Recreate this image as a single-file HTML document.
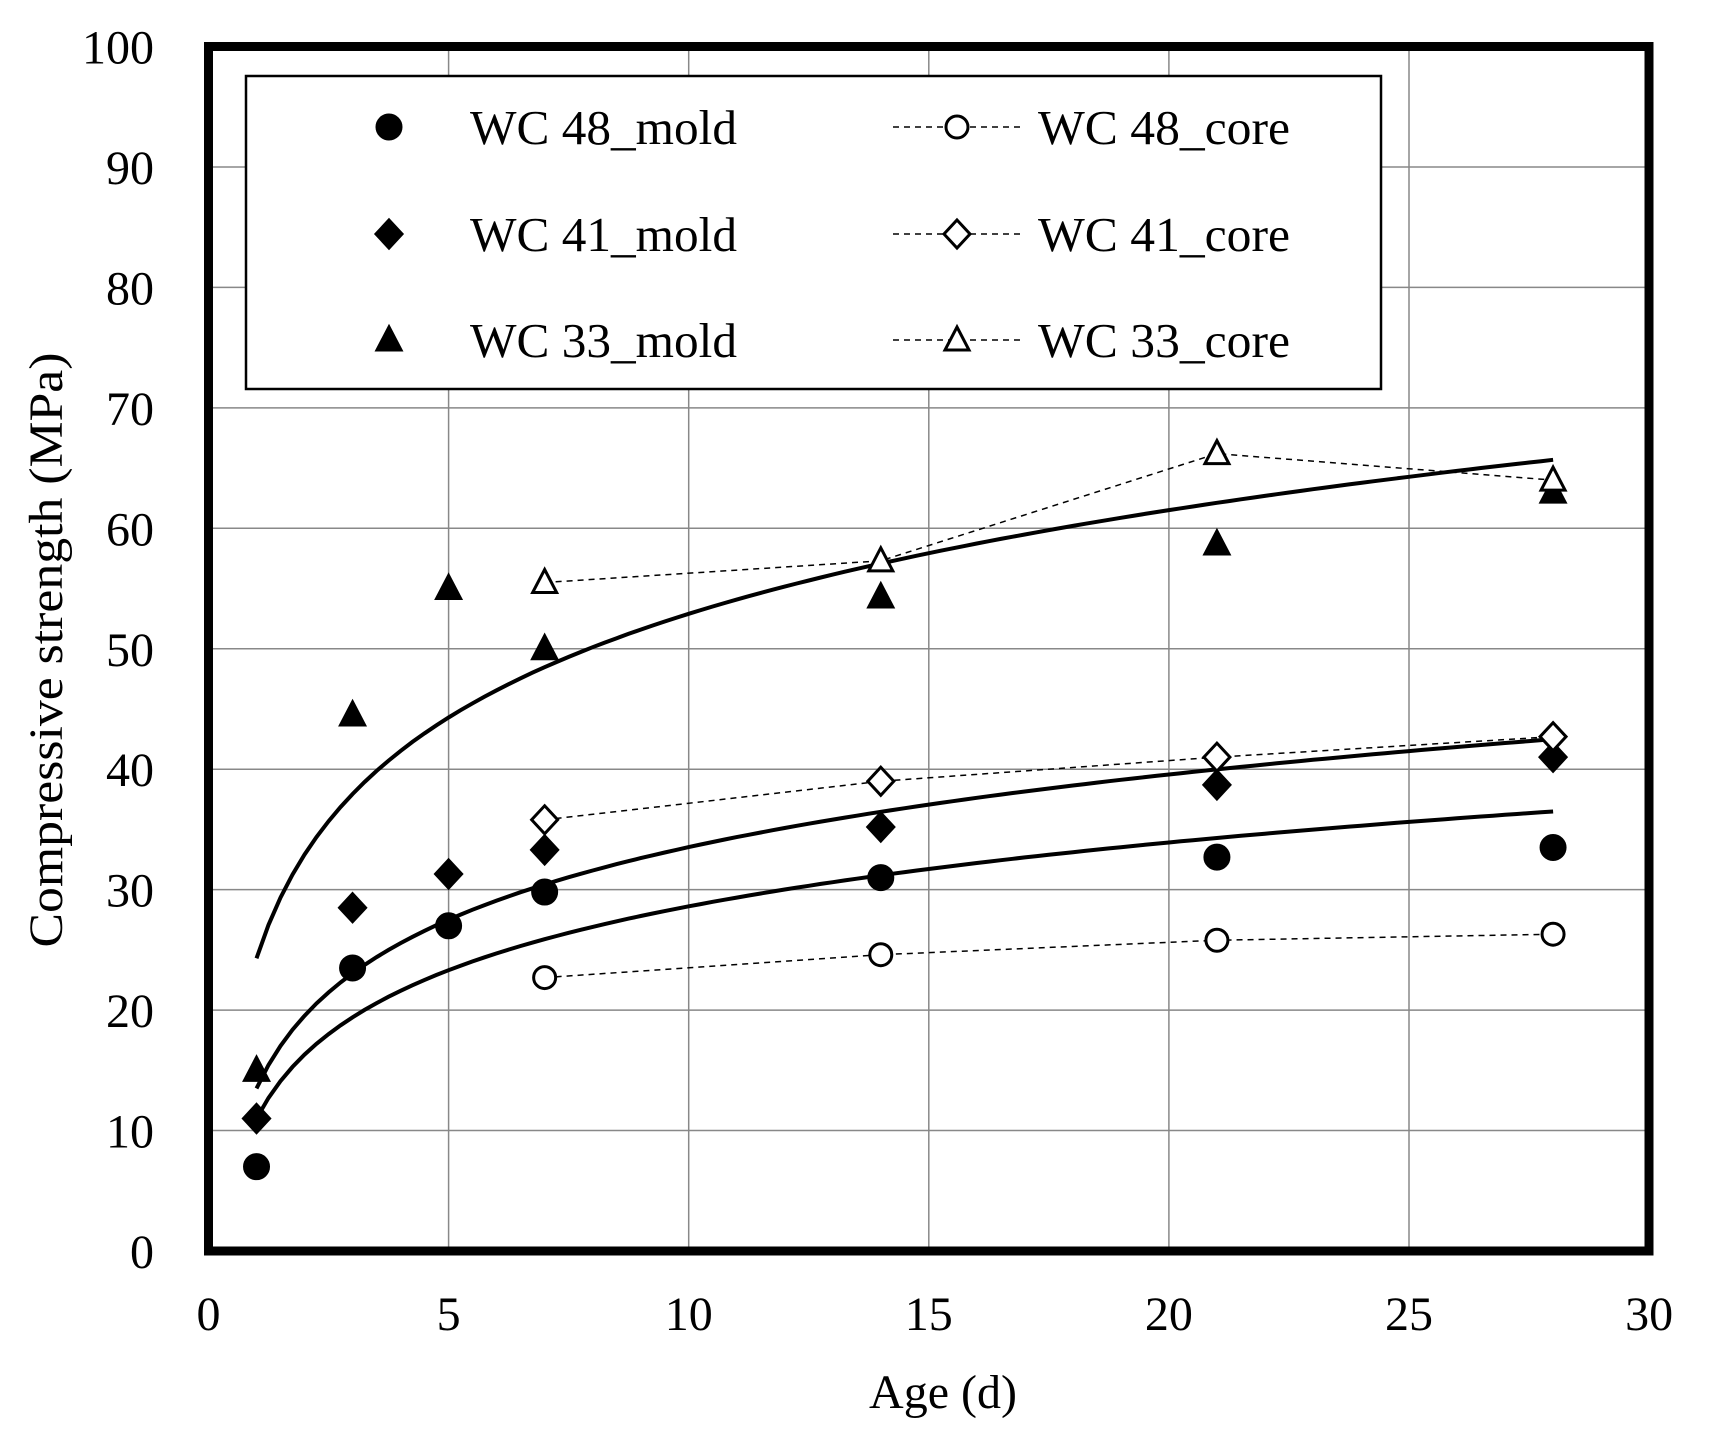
<!DOCTYPE html>
<html><head><meta charset="utf-8"><style>html,body{margin:0;padding:0;background:#fff}svg{display:block}</style></head>
<body>
<svg id="s" width="1717" height="1430" xmlns="http://www.w3.org/2000/svg" font-family="Liberation Serif, serif"></svg>
<script>
const s=document.getElementById('s');
const X=v=>208.5+v*48.02, Y=v=>1251-v*12.045;
let h='';
for(let i=5;i<30;i+=5)h+=`<line x1="${X(i)}" y1="46" x2="${X(i)}" y2="1251" stroke="#888" stroke-width="1.5"/>`;
for(let i=10;i<100;i+=10)h+=`<line x1="208" y1="${Y(i)}" x2="1649" y2="${Y(i)}" stroke="#888" stroke-width="1.5"/>`;
for(let i=0;i<=100;i+=10)h+=`<text x="154" y="${Y(i)+17}" font-size="48" text-anchor="end">${i}</text>`;
for(let i=0;i<=30;i+=5)h+=`<text x="${X(i)}" y="${1330}" font-size="48" text-anchor="middle">${i}</text>`;
h+=`<text x="943" y="1408" font-size="48" text-anchor="middle">Age (d)</text>`;
h+=`<text transform="translate(62,650) rotate(-90)" font-size="48" text-anchor="middle" textLength="595" lengthAdjust="spacingAndGlyphs">Compressive strength (MPa)</text>`;
function fit(a,b){let p=[];for(let x=1;x<=28.01;x+=0.25)p.push(X(x).toFixed(1)+','+Y(a+b*Math.log(x)).toFixed(1));return `<polyline points="${p.join(' ')}" fill="none" stroke="#000" stroke-width="4"/>`;}
h+=fit(24.3,12.42)+fit(13.5,8.7)+fit(11,7.65);
function mk(t,x,y,fill){const r=12;const f=fill?'#000':'#fff';
 if(t=='c')return `<circle cx="${x}" cy="${y}" r="${fill?12:11}" fill="${f}" stroke="#000" stroke-width="3"/>`;
 if(t=='d')return `<polygon points="${x},${y-14} ${x+13},${y} ${x},${y+14} ${x-13},${y}" fill="${f}" stroke="#000" stroke-width="3"/>`;
 return `<polygon points="${x},${y-13} ${x+12},${y+10} ${x-12},${y+10}" fill="${f}" stroke="#000" stroke-width="3"/>`;}
const mold={c:[[1,7],[3,23.5],[5,27],[7,29.8],[14,31],[21,32.7],[28,33.5]],
 d:[[1,11],[3,28.5],[5,31.3],[7,33.3],[14,35.2],[21,38.7],[28,41]],
 t:[[1,15],[3,44.5],[5,55],[7,50],[14,54.3],[21,58.7],[28,63]]};
const core={c:[[7,22.7],[14,24.6],[21,25.8],[28,26.3]],d:[[7,35.8],[14,39],[21,41],[28,42.7]],t:[[7,55.5],[14,57.3],[21,66.2],[28,64]]};
for(const k in core){h+=`<polyline points="${core[k].map(p=>X(p[0])+','+Y(p[1])).join(' ')}" fill="none" stroke="#000" stroke-width="1.5" stroke-dasharray="6,5"/>`;}
for(const k in mold)mold[k].forEach(p=>h+=mk(k,X(p[0]),Y(p[1]),1));
for(const k in core)core[k].forEach(p=>h+=mk(k,X(p[0]),Y(p[1]),0));
h+=`<rect x="208.5" y="46.5" width="1440.5" height="1204.5" fill="none" stroke="#000" stroke-width="9"/>`;
h+=`<rect x="246" y="76" width="1135" height="313" fill="#fff" stroke="#000" stroke-width="2.5"/>`;
const rows=[['c','48',127],['d','41',234],['t','33',340]];
rows.forEach(r=>{const [k,n,y]=r;
 h+=mk(k,389,y,1);
 h+=`<text x="470" y="${y+17}" font-size="49" textLength="267" lengthAdjust="spacingAndGlyphs">WC ${n}_mold</text>`;
 h+=`<line x1="893" y1="${y}" x2="1022" y2="${y}" stroke="#000" stroke-width="1.5" stroke-dasharray="6,5"/>`;
 h+=mk(k,957,y,0);
 h+=`<text x="1038" y="${y+17}" font-size="49" textLength="252" lengthAdjust="spacingAndGlyphs">WC ${n}_core</text>`;});
s.innerHTML=h;
</script>
</body></html>
